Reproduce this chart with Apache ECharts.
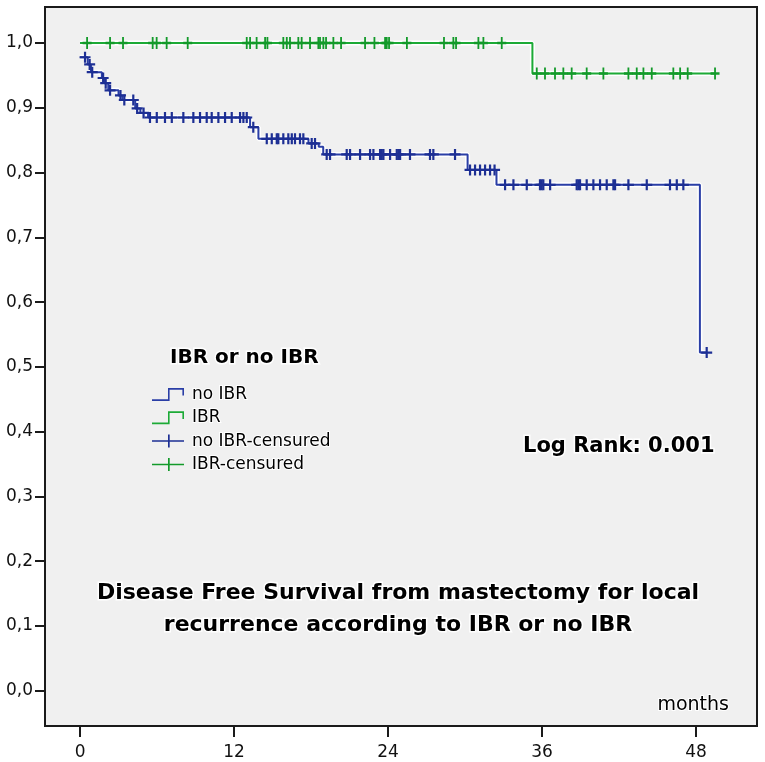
<!DOCTYPE html>
<html>
<head>
<meta charset="utf-8">
<script src="https://cdn.jsdelivr.net/npm/echarts@6/dist/echarts.min.js"></script>
<style>
html,body{margin:0;padding:0;background:#fff;}
#chart{width:765px;height:762px;}
</style>
</head>
<body>
<div id="chart"></div>
<script>
// ---- data ----
const xTicks = [0, 12, 24, 36, 48];
const yTicks = [0, 0.1, 0.2, 0.3, 0.4, 0.5, 0.6, 0.7, 0.8, 0.9, 1.0];

// no IBR group: event times (months) and survival after each event
const noIbrEventTimes = [0, 0.6, 0.85, 1.7, 1.9, 2.2, 3.0, 3.3, 4.3, 4.7, 5.3, 13.25, 13.9, 17.8, 18.6, 18.95, 30.2, 32.45, 48.3];
const noIbrSurvival   = [0.978, 0.967, 0.955, 0.946, 0.938, 0.927, 0.919, 0.912, 0.899, 0.892, 0.885, 0.870, 0.852, 0.845, 0.840, 0.828, 0.804, 0.781, 0.522];
const noIbrCensored = [0.39, 0.75, 0.95, 1.8, 2.0, 2.34, 3.15, 3.45, 4.15, 4.45, 4.95, 5.45,
  5.98, 6.62, 7.15, 8.05, 8.83, 9.35, 9.87, 10.26, 10.78, 11.3, 11.82, 12.47, 12.73, 12.99,
  13.5, 14.55, 14.94, 15.33, 15.45, 15.84, 16.23, 16.5, 16.75, 17.14, 17.4, 18.05, 18.31,
  19.22, 19.48, 20.78, 21.04, 21.82, 22.6, 22.86, 23.38, 23.51, 23.64, 24.16, 24.68, 24.81, 24.94, 25.71, 27.27, 27.53, 29.22,
  30.39, 30.78, 31.17, 31.56, 31.95, 32.3,
  33.12, 33.77, 34.81, 35.84, 35.97, 36.1, 36.63, 38.7, 38.83, 38.96, 39.48, 40.0, 40.52, 41.04, 41.56, 41.69, 42.73, 44.16, 45.97, 46.5, 47.01,
  48.83];

// IBR group
const ibrEventTimes = [0, 35.25];
const ibrSurvival   = [1.0, 0.953];
const ibrCensored = [0.55, 2.34, 3.35, 5.66, 5.97, 6.75, 8.39, 12.99, 13.25, 13.76, 14.42, 14.6, 15.84, 16.11, 16.36,
  17.01, 17.27, 17.92, 18.57, 18.7, 18.96, 19.17, 19.74, 20.34, 22.21, 22.94, 23.77, 23.9, 24.08, 25.47,
  28.36, 29.09, 29.3, 31.04, 31.43, 32.86,
  35.59, 36.23, 37.01, 37.66, 38.31, 39.48, 40.78, 42.73, 43.38, 43.9, 44.55, 46.23, 46.76, 47.35, 49.48];

// ---- helpers ----
function survAt(times, surv, t) {
  let v = surv[0];
  for (let i = 0; i < times.length; i++) { if (times[i] <= t) v = surv[i]; }
  return v;
}
function stepLine(times, surv, cens) {
  const pts = times.map((t, i) => [t, surv[i]]);
  const last = Math.max(...cens);
  if (last > times[times.length - 1]) pts.push([last, surv[surv.length - 1]]);
  return pts;
}
function censorPts(times, surv, cens) {
  return cens.map(t => [t, survAt(times, surv, t)]);
}

const BLUE = '#2a3ea6', BLUE_M = '#1d2f94';
const GREEN = '#1caa36', GREEN_M = '#139a2a';
const FONT = '"DejaVu Sans", "Liberation Sans", sans-serif';

const plusSymbol = 'path://M0,4H10V6H0Z M4,0H6V10H4Z';
const stepIcon = 'path://M0,10.4L16,10.4L16,0L32,0L32,7L30.4,7L30.4,1.6L17.6,1.6L17.6,12L0,12Z';
const plusIcon = 'path://M0,6.2H32V7.8H0Z M16,0H17.7V14H16Z';

const noIbrLine = stepLine(noIbrEventTimes, noIbrSurvival, noIbrCensored);
const ibrLine = stepLine(ibrEventTimes, ibrSurvival, ibrCensored);

const chart = echarts.init(document.getElementById('chart'), null, {renderer: 'canvas'});
chart.setOption({
  animation: false,
  backgroundColor: '#ffffff',
  grid: {
    left: 45, right: 8, top: 7, bottom: 36,
    show: true, backgroundColor: '#f0f0f0', borderColor: '#1a1a1a', borderWidth: 2,
    outerBoundsMode: 'none'
  },
  xAxis: {
    type: 'value', min: -2.73, max: 52.75,
    splitLine: {show: false},
    axisLine: {show: true, onZero: false, lineStyle: {color: '#1a1a1a', width: 2}},
    axisTick: {show: true, customValues: xTicks, length: 11, lineStyle: {color: '#1a1a1a', width: 2}},
    axisLabel: {customValues: xTicks, margin: 18, color: '#111', fontFamily: FONT, fontSize: 17}
  },
  yAxis: {
    type: 'value', min: -0.0545, max: 1.0556,
    splitLine: {show: false},
    axisLine: {show: true, onZero: false, lineStyle: {color: '#1a1a1a', width: 2}},
    axisTick: {show: true, customValues: yTicks, length: 10, lineStyle: {color: '#1a1a1a', width: 2}},
    axisLabel: {customValues: yTicks, margin: 12, color: '#111', fontFamily: FONT, fontSize: 17,
      formatter: v => v.toFixed(1).replace('.', ',')}
  },
  legend: {
    orient: 'vertical', left: 152, top: 385, padding: 0, itemWidth: 32, itemHeight: 13, itemGap: 4.3,
    symbolKeepAspect: false, selectedMode: false,
    itemStyle: {borderWidth: 0},
    textStyle: {fontFamily: FONT, fontSize: 17, color: '#000', textBorderColor: '#fff', textBorderWidth: 2, padding: [0, 0, 0, 3]},
    data: [
      {name: 'no IBR', icon: stepIcon},
      {name: 'IBR', icon: stepIcon},
      {name: 'no IBR-censured', icon: plusIcon},
      {name: 'IBR-censured', icon: plusIcon}
    ]
  },
  series: [
    {type: 'line', name: 'halo1', data: noIbrLine, step: 'end', showSymbol: false, silent: true,
      lineStyle: {color: '#ffffff', width: 5}, itemStyle: {color: '#fff'}, z: 1},
    {type: 'line', name: 'halo2', data: ibrLine, step: 'end', showSymbol: false, silent: true,
      lineStyle: {color: '#ffffff', width: 5}, itemStyle: {color: '#fff'}, z: 1},
    {type: 'line', name: 'no IBR', data: noIbrLine, step: 'end', showSymbol: false,
      lineStyle: {color: BLUE, width: 2}, itemStyle: {color: BLUE}, z: 3},
    {type: 'line', name: 'IBR', data: ibrLine, step: 'end', showSymbol: false,
      lineStyle: {color: GREEN, width: 2}, itemStyle: {color: GREEN}, z: 3},
    {type: 'scatter', name: 'no IBR-censured', data: censorPts(noIbrEventTimes, noIbrSurvival, noIbrCensored),
      symbol: plusSymbol, symbolSize: [11, 11], itemStyle: {color: BLUE_M, opacity: 1}, z: 4},
    {type: 'scatter', name: 'IBR-censured', data: censorPts(ibrEventTimes, ibrSurvival, ibrCensored),
      symbol: plusSymbol, symbolSize: [9, 12], itemStyle: {color: GREEN_M, opacity: 1}, z: 4}
  ],
  graphic: [
    {type: 'text', x: 170, y: 358, z: 10, style: {text: 'IBR or no IBR', font: 'bold 20px ' + FONT,
      fill: '#000', stroke: '#fff', lineWidth: 3, verticalAlign: 'middle', align: 'left'}},
    {type: 'text', x: 523, y: 447, z: 10, style: {text: 'Log Rank: 0.001', font: 'bold 21px ' + FONT,
      fill: '#000', stroke: '#fff', lineWidth: 3, verticalAlign: 'middle', align: 'left'}},
    {type: 'text', x: 398, y: 593, z: 10, style: {text: 'Disease Free Survival from mastectomy for local', font: 'bold 22px ' + FONT,
      fill: '#000', stroke: '#fff', lineWidth: 3, verticalAlign: 'middle', align: 'center'}},
    {type: 'text', x: 398, y: 625, z: 10, style: {text: 'recurrence according to IBR or no IBR', font: 'bold 22px ' + FONT,
      fill: '#000', stroke: '#fff', lineWidth: 3, verticalAlign: 'middle', align: 'center'}},
    {type: 'text', x: 729, y: 705, z: 10, style: {text: 'months', font: '19px ' + FONT,
      fill: '#000', stroke: '#fff', lineWidth: 2, verticalAlign: 'middle', align: 'right'}}
  ]
});
</script>
</body>
</html>
